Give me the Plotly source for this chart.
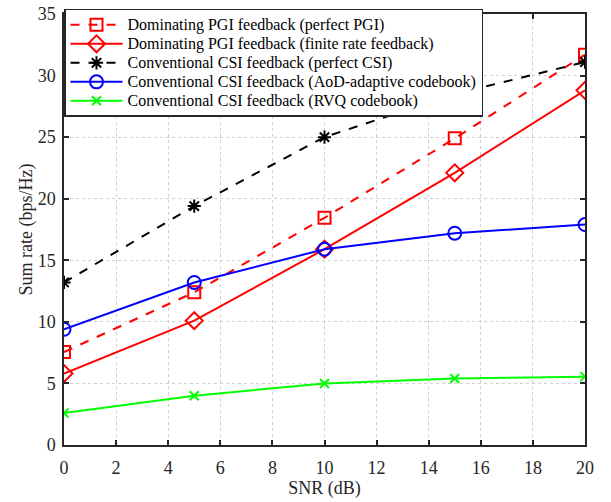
import plotly.graph_objects as go

snr = [0, 5, 10, 15, 20]
pgi_perfect = [7.55, 12.4, 18.45, 24.9, 31.7]
pgi_finite = [5.8, 10.1, 15.9, 22.1, 28.8]
csi_perfect = [13.2, 19.4, 25.0, 28.5, 31.1]
csi_aod = [9.4, 13.2, 15.9, 17.2, 17.9]
csi_rvq = [2.6, 4.0, 5.0, 5.4, 5.55]

names = [
    "Dominating PGI feedback (perfect PGI)",
    "Dominating PGI feedback (finite rate feedback)",
    "Conventional CSI feedback (perfect CSI)",
    "Conventional CSI feedback (AoD-adaptive codebook)",
    "Conventional CSI feedback (RVQ codebook)",
]
series = [pgi_perfect, pgi_finite, csi_perfect, csi_aod, csi_rvq]
colors = ["#ff0000", "#ff0000", "#000000", "#0000ff", "#00ff00"]
dashes = ["dash", "solid", "dash", "solid", "solid"]
symbols = ["square-open", "diamond-open", "asterisk-open", "circle-open", "x-thin-open"]
sizes = [12, 13, 11, 13, 9]

fig = go.Figure()
for n, y, c, d, s, ms in zip(names, series, colors, dashes, symbols, sizes):
    fig.add_trace(go.Scatter(
        x=snr, y=y, name='<span style="font-size:16px">' + n + '</span>',
        mode="lines+markers",
        line=dict(color=c, width=2, dash=d),
        marker=dict(symbol=s, size=ms, color=c, line=dict(color=c, width=2)),
    ))

font = "Liberation Serif"
axis_common = dict(
    showline=True, linecolor="#262626", linewidth=1.5, mirror="ticks",
    ticks="inside", ticklen=5, tickcolor="#262626", tickwidth=1.5,
    showgrid=True, gridcolor="#d0d0d0", griddash="dot", gridwidth=1,
    zeroline=False, automargin=False,
    tickfont=dict(family=font, size=18, color="#262626"),
)
fig.update_xaxes(range=[0, 20], dtick=2, ticklabelstandoff=6,
                 title=dict(text="SNR (dB)", font=dict(family=font, size=18, color="#262626"), standoff=4), **axis_common)
fig.update_yaxes(range=[0, 35], dtick=5, ticklabelstandoff=3,
                 title=dict(text="Sum rate (bps/Hz)", font=dict(family=font, size=18, color="#262626"), standoff=0), **axis_common)

fig.update_layout(
    width=611, height=502,
    margin=dict(l=64, r=26, t=9, b=57),
    plot_bgcolor="white", paper_bgcolor="white",
    font=dict(family=font, size=15, color="#000000"),
    legend=dict(
        x=0, y=1.012, xanchor="left", yanchor="top",
        bgcolor="white", bordercolor="#262626", borderwidth=1.5,
        font=dict(family=font, size=12, color="#000000"),
        itemwidth=52, tracegroupgap=0,
    ),
)

fig.write_html("out.html")
